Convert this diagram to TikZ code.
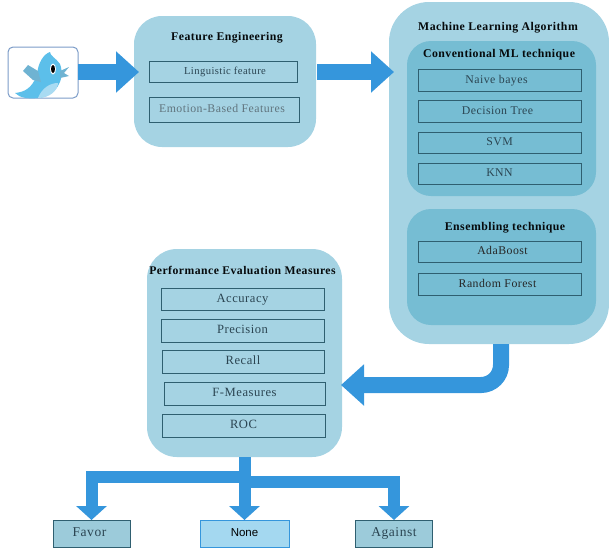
\documentclass[tikz,border=0pt]{standalone}
\usepackage{fontspec}
\usepackage{tikz}
\usetikzlibrary{arrows.meta}
\setmainfont[LetterSpace=4]{Liberation Serif}
\newfontfamily\nonefont{Liberation Sans}
\definecolor{panelblue}{HTML}{A5D3E3}
\definecolor{innerblue}{HTML}{76BDD3}
\definecolor{flowblue}{HTML}{3596DC}
\definecolor{edgeblue}{HTML}{2F5F70}
\definecolor{inkblue}{HTML}{2B4552}
\definecolor{birdblue}{HTML}{5CBFEA}
\definecolor{bellyblue}{HTML}{A9DBF2}
\definecolor{wingblue}{HTML}{6FB3D2}
\definecolor{noneblue}{HTML}{A4D8F0}
\definecolor{resultblue}{HTML}{9CCBDA}
\definecolor{frameblue}{HTML}{7C9CC8}
\tikzset{
  panel/.style={fill=panelblue, rounded corners=28pt, inner sep=0pt, outer sep=0pt},
  inner panel/.style={fill=innerblue, rounded corners=24pt, inner sep=0pt, outer sep=0pt},
  item/.style={draw=edgeblue, line width=0.9pt, inner sep=0pt, outer sep=0pt, text=inkblue, text height=8pt, text depth=2pt, font=\fontsize{11.8}{13}\selectfont},
  measure/.style={item, font=\fontsize{12.6}{14}\selectfont},
  title/.style={inner sep=0pt, text=black!85!inkblue, text height=8pt, text depth=2pt, font=\fontsize{11.8}{13}\selectfont\bfseries},
  result/.style={item, fill=resultblue, minimum width=77pt, minimum height=27pt, font=\fontsize{13.5}{14}\selectfont},
  flow/.style={draw=flowblue, line width=16pt, -{Triangle[width=40pt,length=23pt]}},
  branch/.style={draw=flowblue, line width=12pt, -{Triangle[width=30pt,length=14pt]}},
}
\begin{document}
\begin{tikzpicture}[x=1pt,y=-1pt]
\useasboundingbox (0,0) rectangle (609,547);
% panels
\node[panel, minimum width=182pt, minimum height=131pt] (feature) at (225,81.5) {};
\node[panel, rounded corners=40pt, minimum width=220pt, minimum height=342pt] (ml) at (499,173) {};
\node[inner panel, minimum width=189pt, minimum height=155pt] (conv) at (501.5,118.5) {};
\node[inner panel, minimum width=189pt, minimum height=116pt] (ens) at (501.5,267) {};
\node[panel, rounded corners=30pt, minimum width=195pt, minimum height=208pt] (perf) at (244.5,353) {};
% source box and bird
\node[draw=frameblue, fill=white, line width=1pt, rounded corners=5pt, minimum width=70pt, minimum height=51pt, inner sep=0pt, outer sep=0pt] (twitter) at (43,72.5) {};
\begin{scope}
\clip (8,47) rectangle (78,98);
\fill[birdblue] (15,93) .. controls (25,92) and (32,88) .. (37,75) .. controls (38,62) and (44,54) .. (50,52) .. controls (50,56) and (56,58) .. (60,64) .. controls (66,80) and (55,97) .. (38,98) .. controls (28,99) and (20,98) .. (15,93) -- cycle;
\fill[bellyblue] (38,98) .. controls (42,88) and (50,83) .. (58,83) .. controls (58,90) and (50,98) .. (38,98) -- cycle;
\fill[wingblue] (23,71) -- (28,65) -- (38,71) -- (41,82) -- (33,80) -- cycle;
\fill[wingblue] (60,71) -- (69,67) -- (64,73) -- (69,76) -- (60,78) -- cycle;
\fill[white] (53,69) ellipse (3pt and 5.5pt);
\fill[black] (53,69) ellipse (2pt and 4pt);
\end{scope}
% titles
\node[title] (featuretitle) at (227,37) {Feature Engineering};
\node[title] (mltitle) at (498,27) {Machine Learning Algorithm};
\node[title] (convtitle) at (499,54) {Conventional ML technique};
\node[title] (enstitle) at (505,227) {Ensembling technique};
\node[title, font=\fontsize{11.7}{13}\selectfont\bfseries] (perftitle) at (242.5,271) {Performance Evaluation Measures};
% feature boxes
\node[item, minimum width=148pt, minimum height=21pt, font=\fontsize{10.6}{13}\selectfont] (linguistic) at (223,71.5) {\hspace{4pt}Linguistic feature};
\node[item, minimum width=150pt, minimum height=25pt, text=inkblue!75] (emotion) at (224,109.5) {\hspace{-4pt}Emotion-Based Features};
% algorithm boxes
\node[item, minimum width=163pt, minimum height=22pt] (naive) at (499.5,80) {\hspace{-6pt}Naive bayes};
\node[item, minimum width=163pt, minimum height=22pt] (tree) at (499.5,111) {\hspace{-4pt}Decision Tree};
\node[item, minimum width=163pt, minimum height=21pt] (svm) at (499.5,142.5) {SVM};
\node[item, minimum width=163pt, minimum height=21pt] (knn) at (499.5,173.5) {KNN};
\node[item, minimum width=163pt, minimum height=21pt, text=black!85] (ada) at (499.5,251.5) {\hspace{6pt}AdaBoost};
\node[item, minimum width=163pt, minimum height=22pt, text=black!85] (forest) at (499.5,284) {\hspace{-4pt}Random Forest};
% measure boxes
\node[measure, minimum width=163pt, minimum height=22pt] (accuracy) at (242.5,299) {Accuracy};
\node[measure, minimum width=163pt, minimum height=23pt] (precision) at (242.5,330.5) {Precision};
\node[measure, minimum width=162pt, minimum height=23pt] (recall) at (243,361.5) {Recall};
\node[measure, minimum width=161pt, minimum height=23pt] (fmeasures) at (244.5,393.5) {F-Measures};
\node[measure, minimum width=163pt, minimum height=23pt] (roc) at (243.5,425.5) {ROC};
% classes
\node[result] (favor) at (91.5,533.5) {\hspace{-4pt}Favor};
\node[result, draw=flowblue, line width=0.8pt, fill=noneblue, text=black, minimum width=89pt, font=\fontsize{11.5}{12}\nonefont] (none) at (244.5,533.5) {None};
\node[result] (against) at (394,533.5) {Against};
% free ends
\coordinate (twitterout) at (78,72);
\coordinate (featurein) at (139,72);
\coordinate (featureout) at (317,72);
\coordinate (mlin) at (394,72);
\coordinate (mlout) at (501,344);
\coordinate (perfin) at (341,385);
\coordinate (splitleft) at (244.5,477);
\coordinate (splitright) at (244.5,482);
% arrows
\draw[flow] (twitterout) -- (featurein);
\draw[flow] (featureout) -- (mlin);
\draw[flow, rounded corners=20pt] (mlout) |- (perfin);
\draw[branch] (perf.south) -- (none.north);
\draw[branch] (splitleft) -| (favor.north);
\draw[branch] (splitright) -| (against.north);
\end{tikzpicture}
\end{document}
